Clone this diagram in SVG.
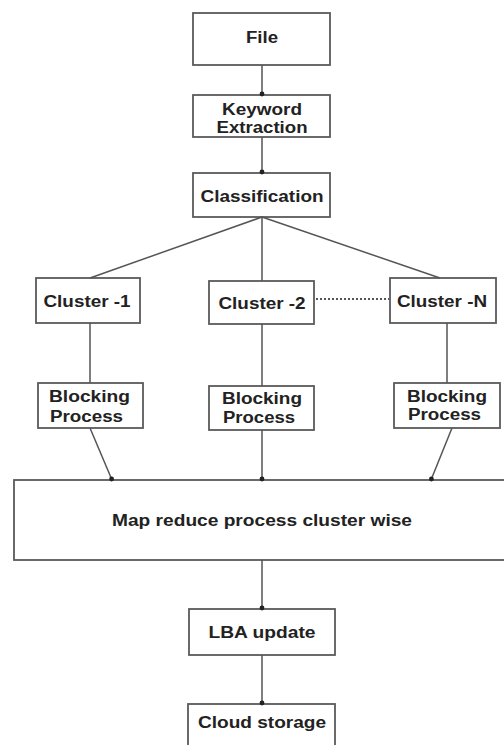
<svg xmlns="http://www.w3.org/2000/svg" width="504" height="745" viewBox="0 0 504 745">
<defs>
<style>
.box{fill:#fff;stroke:#5a5a5a;stroke-width:1.8}
.t{font-family:"Liberation Sans",Arial,sans-serif;font-weight:bold;font-size:16px;fill:#222}
.c{text-anchor:middle}
.ln{stroke:#555;stroke-width:1.5;fill:none}
.dot{stroke:#555;stroke-width:2;stroke-dasharray:2 2;fill:none}
</style>
<marker id="d" viewBox="0 0 6 6" refX="3" refY="3" markerWidth="6" markerHeight="6" markerUnits="userSpaceOnUse">
<circle cx="3" cy="3" r="2.4" fill="#222"/>
</marker>
</defs>
<rect width="504" height="745" fill="#fff"/>
<g id="file"><rect class="box" x="193" y="13" width="137" height="52"/><text class="t c" x="262" y="43" textLength="32" lengthAdjust="spacingAndGlyphs">File</text></g>
<g id="keyword"><rect class="box" x="193" y="95" width="137" height="42"/><text class="t c" x="262" y="115" textLength="80" lengthAdjust="spacingAndGlyphs">Keyword</text><text class="t c" x="262" y="133" textLength="91" lengthAdjust="spacingAndGlyphs">Extraction</text></g>
<g id="classification"><rect class="box" x="193" y="173" width="137" height="44"/><text class="t c" x="262" y="202" textLength="123" lengthAdjust="spacingAndGlyphs">Classification</text></g>
<g id="cluster1"><rect class="box" x="36" y="278" width="104" height="45"/><text class="t c" x="87" y="307" textLength="87" lengthAdjust="spacingAndGlyphs">Cluster -1</text></g>
<g id="cluster2"><rect class="box" x="209" y="281" width="105" height="43"/><text class="t c" x="262" y="309" textLength="87" lengthAdjust="spacingAndGlyphs">Cluster -2</text></g>
<g id="clusterN"><rect class="box" x="390" y="278" width="106" height="45"/><text class="t c" x="442" y="307" textLength="90" lengthAdjust="spacingAndGlyphs">Cluster -N</text></g>
<g id="blocking1"><rect class="box" x="38" y="383" width="105" height="45"/><text class="t" x="49" y="402" textLength="81" lengthAdjust="spacingAndGlyphs">Blocking</text><text class="t" x="50" y="422" textLength="73" lengthAdjust="spacingAndGlyphs">Process</text></g>
<g id="blocking2"><rect class="box" x="209" y="386" width="105" height="44"/><text class="t" x="222" y="404" textLength="80" lengthAdjust="spacingAndGlyphs">Blocking</text><text class="t" x="223" y="423" textLength="72" lengthAdjust="spacingAndGlyphs">Process</text></g>
<g id="blockingN"><rect class="box" x="394" y="383" width="106" height="45"/><text class="t" x="407" y="402" textLength="80" lengthAdjust="spacingAndGlyphs">Blocking</text><text class="t" x="408" y="420" textLength="73" lengthAdjust="spacingAndGlyphs">Process</text></g>
<g id="mapreduce"><rect class="box" x="14" y="480" width="500" height="80"/><text class="t c" x="262" y="526" textLength="300" lengthAdjust="spacingAndGlyphs">Map reduce process cluster wise</text></g>
<g id="lba"><rect class="box" x="189" y="609" width="146" height="46"/><text class="t c" x="262" y="638" textLength="107" lengthAdjust="spacingAndGlyphs">LBA update</text></g>
<g id="cloud"><rect class="box" x="188" y="704" width="147" height="50"/><text class="t c" x="262" y="728" textLength="128" lengthAdjust="spacingAndGlyphs">Cloud storage</text></g>
<g id="connectors">
<line class="ln" x1="262" y1="65" x2="262" y2="94" marker-end="url(#d)"/>
<line class="ln" x1="262" y1="137" x2="262" y2="172" marker-end="url(#d)"/>
<line class="ln" x1="262" y1="217" x2="90" y2="278"/>
<line class="ln" x1="262" y1="217" x2="262" y2="281"/>
<line class="ln" x1="262" y1="217" x2="440" y2="278"/>
<line class="dot" x1="316" y1="299" x2="389" y2="299"/>
<line class="ln" x1="90" y1="323" x2="90" y2="383"/>
<line class="ln" x1="262" y1="324" x2="262" y2="386"/>
<line class="ln" x1="447" y1="323" x2="447" y2="383"/>
<line class="ln" x1="90" y1="428" x2="111.6" y2="479" marker-end="url(#d)"/>
<line class="ln" x1="262" y1="430" x2="262" y2="479" marker-end="url(#d)"/>
<line class="ln" x1="452" y1="428" x2="431.4" y2="479" marker-end="url(#d)"/>
<line class="ln" x1="262" y1="560" x2="262" y2="608" marker-end="url(#d)"/>
<line class="ln" x1="262" y1="655" x2="262" y2="703" marker-end="url(#d)"/>
</g>
</svg>
